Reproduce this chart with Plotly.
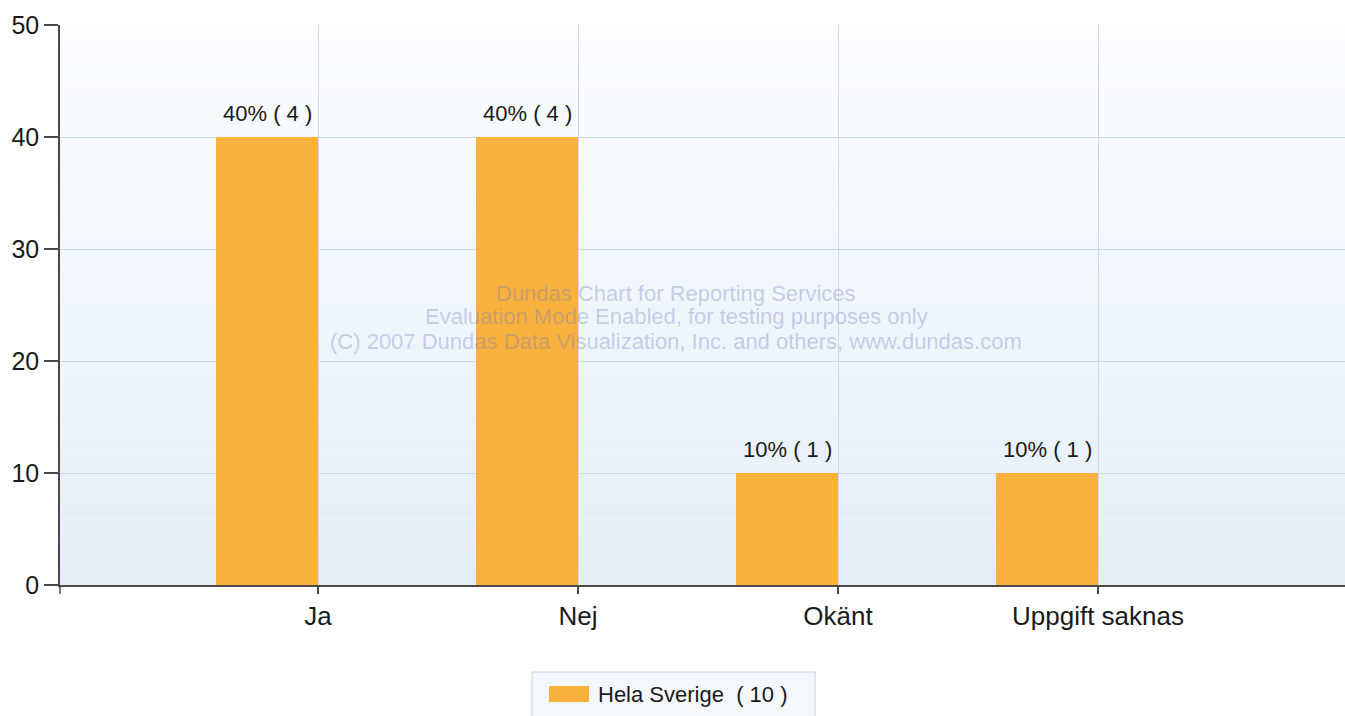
import plotly.graph_objects as go

# ---- data ----
categories = ["Ja", "Nej", "Okänt", "Uppgift saknas"]
percent_values = [40, 40, 10, 10]
count_values = [4, 4, 1, 1]
series_name = "Hela Sverige"
y_ticks = [0, 10, 20, 30, 40, 50]
watermark_lines = [
    "Dundas Chart for Reporting Services",
    "Evaluation Mode Enabled, for testing purposes only",
    "(C) 2007 Dundas Data Visualization, Inc. and others, www.dundas.com",
]

positions = list(range(1, len(categories) + 1))
total = sum(count_values)

FONT = "Liberation Sans, Arial, sans-serif"
BAR_COLOR = "#f9b13d"
GRID = "#c9dcee"
AXIS = "#4a4a4a"
TEXT = "#1a1a1a"
BAR_W = 0.392

# plot area in pixels
W, H = 1345, 716
L, R, T, B = 60, 0, 25, 131
pw, ph = W - L - R, H - T - B


def px_x(x):
    return (x - L) / pw


def px_y(y):
    return (H - B - y) / ph


fig = go.Figure()
fig.add_trace(go.Bar(
    x=positions,
    y=percent_values,
    offset=-BAR_W,
    width=BAR_W,
    marker=dict(color=BAR_COLOR, line=dict(width=0)),
    name=series_name,
    showlegend=False,
))

shapes = []
# gradient background of the plot area
n = 60
top_c = (251, 253, 255)
bot_c = (228, 238, 249)
for i in range(n):
    f = i / (n - 1)
    c = tuple(round(top_c[k] + (bot_c[k] - top_c[k]) * f) for k in range(3))
    shapes.append(dict(type="rect", xref="paper", yref="paper",
                       x0=0, x1=1, y0=1 - (i + 1) / n, y1=1 - i / n,
                       fillcolor="rgb(%d,%d,%d)" % c, line=dict(width=0),
                       layer="below"))
# y axis extension below the x axis
shapes.append(dict(type="line", xref="paper", yref="paper",
                   x0=0, x1=0, y0=0, y1=px_y(594),
                   line=dict(color=AXIS, width=1.5)))
# legend box
shapes.append(dict(type="rect", xref="paper", yref="paper",
                   x0=px_x(532), x1=px_x(815), y0=px_y(722), y1=px_y(672),
                   fillcolor="#f4f8fc", line=dict(color="#c3d3e6", width=1)))
shapes.append(dict(type="rect", xref="paper", yref="paper",
                   x0=px_x(549), x1=px_x(589), y0=px_y(702), y1=px_y(686),
                   fillcolor=BAR_COLOR, line=dict(width=0)))

annotations = []
# value labels above bars
for xpos, pct, cnt in zip(positions, percent_values, count_values):
    annotations.append(dict(
        xref="x", yref="y", x=xpos - BAR_W / 2, y=pct,
        xanchor="center", yanchor="bottom", yshift=9, showarrow=False,
        text=f"{pct}% ( {cnt} )",
        font=dict(family=FONT, size=22, color=TEXT)))
# legend text
annotations.append(dict(
    xref="paper", yref="paper", x=px_x(596), y=px_y(694),
    xanchor="left", yanchor="middle", showarrow=False,
    text=f"{series_name}  ( {total} )",
    font=dict(family=FONT, size=22, color=TEXT)))
# watermark
for i, line in enumerate(watermark_lines):
    annotations.append(dict(
        xref="paper", yref="paper", x=px_x(676), y=px_y(293 + 24 * i),
        xanchor="center", yanchor="middle", showarrow=False,
        text=line,
        font=dict(family=FONT, size=22, color="rgba(110,125,190,0.35)")))

fig.update_layout(
    width=W, height=H,
    margin=dict(l=L, r=R, t=T, b=B, pad=0),
    paper_bgcolor="white",
    plot_bgcolor="rgba(0,0,0,0)",
    shapes=shapes,
    annotations=annotations,
    bargap=0,
)
fig.update_xaxes(
    range=[(L - 58) / 260, (W - 58) / 260],
    tickmode="array", tickvals=positions, ticktext=categories,
    showgrid=True, gridcolor=GRID, gridwidth=1,
    showline=True, linecolor=AXIS, linewidth=1.5,
    ticks="outside", ticklen=7, tickcolor=AXIS, tickwidth=1.5,
    tickfont=dict(family=FONT, size=26, color=TEXT),
    zeroline=False,
)
fig.update_yaxes(
    range=[0, 50],
    tickmode="array", tickvals=y_ticks,
    showgrid=True, gridcolor=GRID, gridwidth=1,
    showline=True, linecolor=AXIS, linewidth=1.5,
    ticks="outside", ticklen=14, tickcolor=AXIS, tickwidth=1.5,
    tickfont=dict(family=FONT, size=25, color=TEXT),
    zeroline=False,
)

fig.write_html(
    "out.html",
    config={"displayModeBar": False},
    post_script="document.body.style.margin='0';document.body.style.overflow='hidden';",
)
